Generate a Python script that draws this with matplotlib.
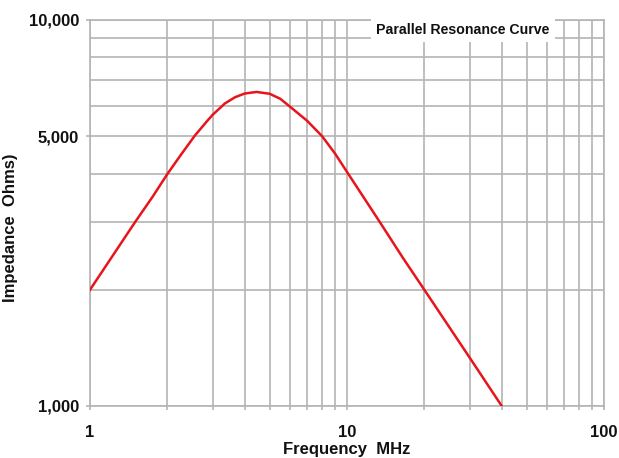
import matplotlib.pyplot as plt
from matplotlib.ticker import FixedLocator, FuncFormatter, NullFormatter

# Data
freq_mhz = [1, 1.25, 1.5, 1.75, 2, 2.25, 2.56, 2.84, 3, 3.35, 3.67, 4, 4.45, 5, 5.5, 6, 7, 8, 9, 10, 13.4, 16.5, 20, 30, 40]
impedance = [2000, 2500, 3000, 3480, 3990, 4460, 5020, 5450, 5680, 6080, 6310, 6450, 6510, 6440, 6250, 5963, 5480, 5000, 4500, 4040, 3000, 2420, 2000, 1335, 1000]

x_major = [1, 10, 100]
x_minor = [2, 3, 4, 5, 6, 7, 8, 9, 20, 30, 40, 50, 60, 70, 80, 90]
y_major = [1000, 5000, 10000]
y_minor = [2000, 3000, 4000, 6000, 7000, 8000, 9000]

grid_color = "#b4b4b4"

plt.rcParams["font.family"] = ["Liberation Sans", "DejaVu Sans"]

fig = plt.figure(figsize=(6.19, 4.58), dpi=100)
ax = fig.add_axes([90 / 619, 1 - 406 / 458, 514 / 619, 386 / 458])

ax.plot(freq_mhz, impedance, color="#e8141c", linewidth=1.8, zorder=3)

ax.set_xscale("log")
ax.set_yscale("log")
ax.set_xlim(1, 100)
ax.set_ylim(1000, 10000)

ax.xaxis.set_major_locator(FixedLocator(x_major))
ax.xaxis.set_minor_locator(FixedLocator(x_minor))
ax.xaxis.set_major_formatter(FuncFormatter(lambda v, p: f"{v:g}"))
ax.xaxis.set_minor_formatter(NullFormatter())
ax.yaxis.set_major_locator(FixedLocator(y_major))
ax.yaxis.set_minor_locator(FixedLocator(y_minor))
ax.yaxis.set_major_formatter(FuncFormatter(lambda v, p: f"{v:,.0f}"))
ax.yaxis.set_minor_formatter(NullFormatter())

ax.grid(True, which="both", color=grid_color, linewidth=1.2)
for s in ax.spines.values():
    s.set_color(grid_color)
    s.set_linewidth(1.2)

ax.tick_params(axis="both", which="major", length=3, color=grid_color, width=1.2,
               labelsize=12, labelcolor="#111111")
ax.tick_params(axis="x", which="major", pad=11)
ax.tick_params(axis="y", which="major", pad=5)
ax.tick_params(axis="x", which="minor", length=3, color=grid_color, width=1.2)
ax.tick_params(axis="y", which="minor", length=0)
for lbl in ax.get_xticklabels() + ax.get_yticklabels():
    lbl.set_fontweight("bold")

ax.set_xlabel("Frequency  MHz", fontsize=12, fontweight="bold", color="#111111")
ax.xaxis.set_label_coords(0.5, -0.094)
ax.set_ylabel("Impedance  Ohms)", fontsize=12, fontweight="bold", color="#111111")
ax.yaxis.set_label_coords(-0.14, 0.461)

ax.text(0.726, 0.975, "Parallel Resonance Curve", transform=ax.transAxes,
        ha="center", va="center", fontsize=10.2, fontweight="bold", color="#111111",
        bbox=dict(facecolor="white", edgecolor="none", pad=4), zorder=4)

plt.savefig("out.png", dpi=100)
